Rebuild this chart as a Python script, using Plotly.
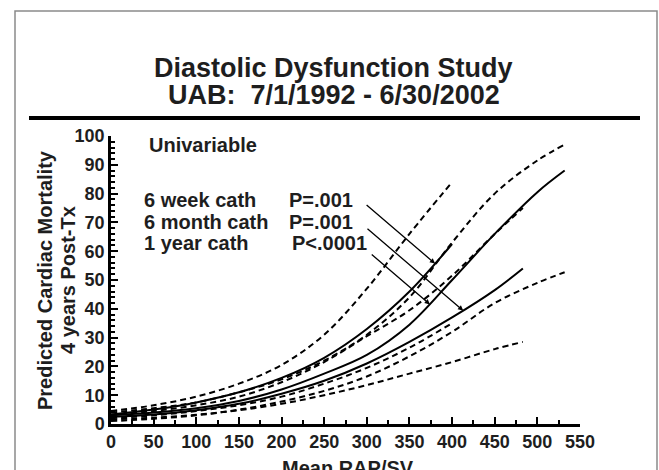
import plotly.graph_objects as go

# ---------------- data ----------------
x_6wk = [0, 50, 100, 150, 200, 250, 300, 350, 400]
y_6wk = [3.3, 5.0, 7.5, 11.0, 16.0, 23.0, 33.0, 46.0, 62.5]
y_6wk_hi = [4.5, 6.5, 9.5, 14.0, 20.5, 31.0, 47.0, 66.0, 84.0]
y_6wk_lo = [2.0, 3.0, 4.5, 6.5, 9.5, 14.0, 19.5, 26.5, 35.0]

x_1yr = [0, 50, 100, 150, 200, 250, 300, 350, 400, 450, 500, 532]
y_1yr = [3.0, 4.0, 5.5, 8.0, 12.0, 17.5, 24.0, 34.5, 50.0, 66.0, 80.5, 88.0]
y_1yr_hi = [4.0, 5.5, 7.5, 11.0, 15.5, 22.0, 31.0, 44.0, 63.0, 80.0, 91.5, 97.0]
y_1yr_lo = [1.0, 1.8, 3.0, 5.0, 7.8, 11.5, 16.5, 23.5, 32.0, 42.0, 49.0, 52.7]

x_6mo = [0, 50, 100, 150, 200, 250, 300, 350, 400, 450, 483]
y_6mo = [2.5, 3.3, 4.8, 7.0, 10.5, 15.0, 21.0, 28.5, 37.0, 46.5, 54.0]
y_6mo_hi = [3.2, 4.5, 6.5, 9.5, 14.5, 21.5, 30.5, 39.5, 51.5, 66.0, 75.0]
y_6mo_lo = [1.6, 2.2, 3.2, 4.8, 7.0, 10.0, 13.5, 17.5, 21.5, 26.0, 28.5]

legend_rows = ["6 week cath", "6 month cath", "1 year cath"]
p_values = ["P=.001", "P=.001", "P<.0001"]
# arrow tail / head in data units
arrow_tail = [(298, 76.5), (299, 68.2), (304, 59.3)]
arrow_head = [(380, 55.7), (413, 39.4), (374, 41.5)]

x_ticks = list(range(0, 551, 50))
y_ticks = list(range(0, 101, 10))

title1 = "Diastolic Dysfunction Study"
title2 = "UAB:  7/1/1992 - 6/30/2002"
ytitle1 = "Predicted Cardiac Mortality"
ytitle2 = "4 years Post-Tx"
xtitle = "Mean RAP/SV"
subtitle = "Univariable"

# ---------------- layout geometry ----------------
W, H = 659, 470
L, R, T, B = 111, 79, 136, 46
PW, PH = W - L - R, H - T - B
FONT = "Liberation Sans, Arial, sans-serif"
TXT = "#1e1e1e"


def px(x):
    return (x - L) / PW


def py(y):
    return (H - B - y) / PH


fig = go.Figure()

solid = dict(color="black", width=2)
dashed = dict(color="black", width=2, dash="6px,4px")

for xs, ys, hi, lo in [
    (x_6wk, y_6wk, y_6wk_hi, y_6wk_lo),
    (x_1yr, y_1yr, y_1yr_hi, y_1yr_lo),
    (x_6mo, y_6mo, y_6mo_hi, y_6mo_lo),
]:
    for yy, ln in [(hi, dashed), (lo, dashed), (ys, solid)]:
        fig.add_trace(go.Scatter(x=xs, y=yy, mode="lines", line=ln,
                                 line_shape="spline", showlegend=False,
                                 hoverinfo="skip"))


def label(text, x, y, size, xanchor="center", yanchor="middle", angle=0):
    return dict(text="<b>" + text + "</b>", x=px(x), y=py(y),
                xref="paper", yref="paper", showarrow=False,
                xanchor=xanchor, yanchor=yanchor, textangle=angle,
                font=dict(family=FONT, size=size, color=TXT))


annotations = [
    label(title1, 333, 68, 27),
    label(title2, 334, 95, 27),
    label(ytitle1, 45, 280, 20, angle=-90),
    label(ytitle2, 68, 280, 20, angle=-90),
    label(xtitle, 348, 455, 20, yanchor="top"),
    label(subtitle, 147, 145, 20, xanchor="left"),
]

row_y = [200, 222, 243]
p_x = [287, 287, 290]
for i in range(3):
    annotations.append(label(legend_rows[i], 142, row_y[i], 20, xanchor="left"))
    annotations.append(label(p_values[i], p_x[i], row_y[i], 20, xanchor="left"))
    (tx, ty), (hx, hy) = arrow_tail[i], arrow_head[i]
    annotations.append(dict(x=hx, y=hy, ax=tx, ay=ty, xref="x", yref="y",
                            axref="x", ayref="y", text="", showarrow=True,
                            arrowhead=2, arrowsize=0.8, arrowwidth=1.3,
                            arrowcolor="black", standoff=0))

shapes = [
    # outer frame
    dict(type="rect", xref="paper", yref="paper", x0=px(15), x1=px(657),
         y0=py(480), y1=py(11), line=dict(color="#8a8a8a", width=1.5)),
    # title rule
    dict(type="line", xref="paper", yref="paper", x0=px(29), x1=px(640),
         y0=py(118), y1=py(118), line=dict(color="black", width=4)),
]

fig.update_layout(
    width=W, height=H,
    margin=dict(l=L, r=R, t=T, b=B, pad=0),
    paper_bgcolor="white", plot_bgcolor="white",
    annotations=annotations, shapes=shapes,
    showlegend=False,
    font=dict(family=FONT, color=TXT),
    xaxis=dict(range=[0, 550], tickmode="array", tickvals=x_ticks,
               ticktext=["<b>%d</b>" % v for v in x_ticks],
               tickfont=dict(family=FONT, size=18, color=TXT),
               showline=True, linecolor="black", linewidth=2.5,
               ticks="inside", ticklen=7, tickwidth=2, tickcolor="black",
               minor=dict(dtick=25, tick0=0, ticks="inside", ticklen=4,
                          tickwidth=1.5, tickcolor="black", showgrid=False),
               showgrid=False, zeroline=False, fixedrange=True),
    yaxis=dict(range=[0, 100], tickmode="array", tickvals=y_ticks,
               ticktext=["<b>%d</b>" % v for v in y_ticks],
               tickfont=dict(family=FONT, size=18, color=TXT),
               showline=True, linecolor="black", linewidth=2.5,
               ticks="inside", ticklen=7, tickwidth=2, tickcolor="black",
               minor=dict(dtick=2, tick0=0, ticks="inside", ticklen=4,
                          tickwidth=1.5, tickcolor="black", showgrid=False),
               showgrid=False, zeroline=False, fixedrange=True),
)

fig.write_html("out.html", config={"displayModeBar": False},
               post_script="document.body.style.margin='0px';")
